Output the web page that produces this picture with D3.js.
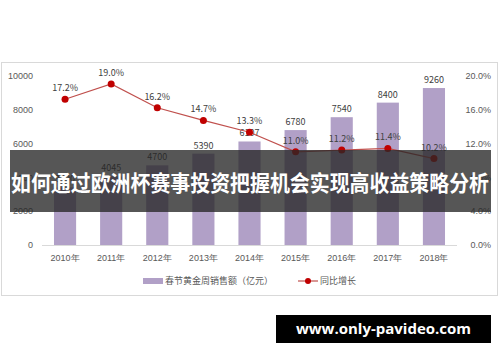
<!DOCTYPE html>
<html>
<head>
<meta charset="utf-8">
<script src="https://cdn.jsdelivr.net/npm/d3@7"></script>
<style>
  body { margin: 0; background: #fff; }
  svg { display: block; font-family: "Noto Sans CJK SC", "Noto Sans", sans-serif; }
  .axis text { font-size: 9px; fill: #595959; }
  .axis path, .axis line { stroke: none; }
</style>
</head>
<body>
<div id="chart"></div>
<script>
// data
var years = ['2010年', '2011年', '2012年', '2013年', '2014年', '2015年', '2016年', '2017年', '2018年'];
var sales = [3400, 4045, 4700, 5390, 6107, 6780, 7540, 8400, 9260];
var growth = [17.2, 19.0, 16.2, 14.7, 13.3, 11.0, 11.2, 11.4, 10.2];
var leftTicks = [0, 2000, 4000, 6000, 8000, 10000];
var rightTicks = [0, 4, 8, 12, 16, 20];
var salesName = '春节黄金周销售额（亿元）';
var growthName = '同比增长';
var bannerText = '如何通过欧洲杯赛事投资把握机会实现高收益策略分析';
var watermark = 'www.only-pavideo.com';

var w = 500, h = 362;
var margin = { top: 74, left: 42, right: 43, bottom: 117 };

var svg = d3.select('#chart').append('svg')
    .attr('width', w)
    .attr('height', h);

// chart frame
svg.append('rect')
    .attr('x', 1.5).attr('y', 62.5)
    .attr('width', 496).attr('height', 233)
    .attr('fill', '#fff')
    .attr('stroke', '#d9d9d9');

var x = d3.scaleBand()
    .domain(years)
    .range([margin.left, w - margin.right])
    .paddingInner(0.52)
    .paddingOuter(0.26);

var yL = d3.scaleLinear().domain([0, 10000]).range([245, 75.5]);
var yR = d3.scaleLinear().domain([0, 20]).range([245, 75.5]);

// axes
svg.append('g')
    .attr('class', 'axis')
    .attr('transform', 'translate(33,0)')
    .call(d3.axisLeft(yL).tickValues(leftTicks).tickSize(0).tickPadding(0).tickFormat(d3.format('d')));

svg.append('g')
    .attr('class', 'axis')
    .attr('transform', 'translate(491,0)')
    .call(d3.axisLeft(yR).tickValues(rightTicks).tickSize(0).tickPadding(0).tickFormat(function(d) { return d.toFixed(1) + '%'; }));

svg.append('g')
    .attr('class', 'axis')
    .attr('transform', 'translate(0,' + (yL(0) + 8) + ')')
    .call(d3.axisBottom(x).tickSize(0).tickPadding(2));

svg.append('line')
    .attr('x1', margin.left).attr('x2', w - margin.right)
    .attr('y1', yL(0) + 0.5).attr('y2', yL(0) + 0.5)
    .attr('stroke', '#d9d9d9');

// bars
svg.selectAll('.bar')
    .data(sales)
    .enter().append('rect')
    .attr('class', 'bar')
    .attr('x', function(d, i) { return x(years[i]); })
    .attr('y', function(d) { return yL(d); })
    .attr('width', x.bandwidth())
    .attr('height', function(d) { return yL(0) - yL(d); })
    .attr('fill', '#b1a0c7');

svg.selectAll('.bar-label')
    .data(sales)
    .enter().append('text')
    .attr('x', function(d, i) { return x(years[i]) + x.bandwidth() / 2; })
    .attr('y', function(d) { return yL(d) - 5; })
    .attr('text-anchor', 'middle')
    .attr('font-size', 9)
    .attr('fill', '#404040')
    .text(function(d) { return d; });

// growth line
var cx = function(d, i) { return x(years[i]) + x.bandwidth() / 2; };
var line = d3.line()
    .x(cx)
    .y(function(d) { return yR(d); });

svg.append('path')
    .datum(growth)
    .attr('d', line)
    .attr('fill', 'none')
    .attr('stroke', '#c0504d')
    .attr('stroke-width', 1.2);

svg.selectAll('.dot')
    .data(growth)
    .enter().append('circle')
    .attr('cx', cx)
    .attr('cy', function(d) { return yR(d); })
    .attr('r', 3.5)
    .attr('fill', '#c00000');

svg.selectAll('.dot-label')
    .data(growth)
    .enter().append('text')
    .attr('x', cx)
    .attr('y', function(d) { return yR(d) - 8; })
    .attr('text-anchor', 'middle')
    .attr('font-size', 9)
    .attr('fill', '#404040')
    .text(function(d) { return d.toFixed(1) + '%'; });

// legend
var legend = svg.append('g').attr('class', 'legend');
legend.append('rect')
    .attr('x', 143).attr('y', 278)
    .attr('width', 20).attr('height', 6)
    .attr('fill', '#b1a0c7');
legend.append('text')
    .attr('x', 165).attr('y', 281)
    .attr('dy', '0.35em')
    .attr('font-size', 9)
    .attr('fill', '#595959')
    .text(salesName);
legend.append('line')
    .attr('x1', 298).attr('x2', 318)
    .attr('y1', 281).attr('y2', 281)
    .attr('stroke', '#c0504d')
    .attr('stroke-width', 1.2);
legend.append('circle')
    .attr('cx', 308).attr('cy', 281)
    .attr('r', 3)
    .attr('fill', '#c00000');
legend.append('text')
    .attr('x', 320).attr('y', 281)
    .attr('dy', '0.35em')
    .attr('font-size', 9)
    .attr('fill', '#595959')
    .text(growthName);

// title banner over the chart
svg.append('rect')
    .attr('x', 10).attr('y', 150)
    .attr('width', 481).attr('height', 62)
    .attr('fill', '#262626')
    .attr('fill-opacity', 0.78);
svg.append('text')
    .attr('x', 250).attr('y', 183)
    .attr('dy', '0.35em')
    .attr('text-anchor', 'middle')
    .attr('font-size', 22)
    .attr('font-weight', 'bold')
    .attr('textLength', 478)
    .attr('lengthAdjust', 'spacingAndGlyphs')
    .attr('fill', '#fff')
    .text(bannerText);

// watermark
svg.append('rect')
    .attr('x', 276).attr('y', 315)
    .attr('width', 215).attr('height', 28)
    .attr('fill', '#000');
svg.append('text')
    .attr('x', 383.5).attr('y', 329)
    .attr('dy', '0.35em')
    .attr('text-anchor', 'middle')
    .attr('font-family', '"Open Sans", "DejaVu Sans", sans-serif')
    .attr('font-size', 15)
    .attr('font-weight', 'bold')
    .attr('fill', '#fff')
    .text(watermark);
</script>
</body>
</html>
